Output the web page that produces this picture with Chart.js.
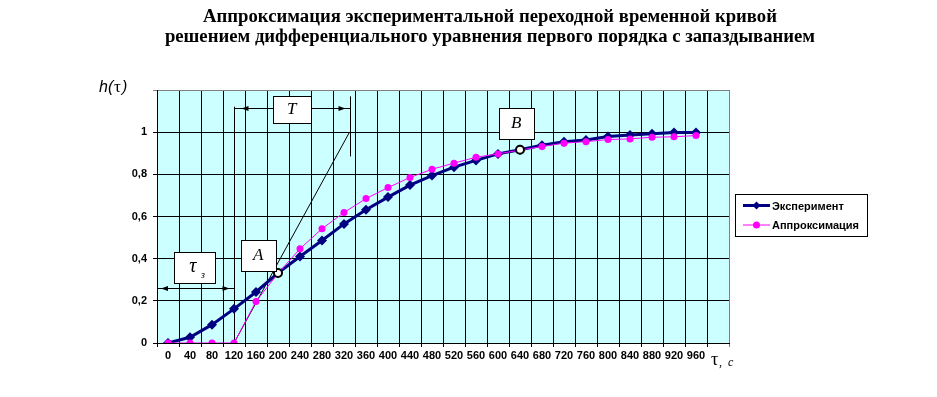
<!DOCTYPE html>
<html><head><meta charset="utf-8">
<script src="https://cdn.jsdelivr.net/npm/chart.js@4/dist/chart.umd.min.js"></script>
<style>html,body{margin:0;padding:0;background:#fff}</style>
</head><body>
<canvas id="c" width="937" height="397"></canvas>
<script>
// ---- data ----
const categories = ['0','40','80','120','160','200','240','280','320','360','400','440','480','520','560','600','640','680','720','760','800','840','880','920','960',''];
const experiment = [0, 0.027, 0.087, 0.162, 0.242, 0.332, 0.41, 0.486, 0.565, 0.632, 0.692, 0.749, 0.794, 0.834, 0.866, 0.897, 0.917, 0.938, 0.954, 0.963, 0.979, 0.986, 0.992, 0.998, 0.998];
const approximation = [0, 0, 0, 0, 0.197, 0.33, 0.447, 0.542, 0.619, 0.685, 0.737, 0.785, 0.824, 0.853, 0.881, 0.897, 0.915, 0.932, 0.948, 0.955, 0.965, 0.968, 0.976, 0.978, 0.984];
const keyPointTaus = ['200', '640'];
const keyPointValues = [0.332, 0.917];
const yTickLabels = ['0', '0,2', '0,4', '0,6', '0,8', '1', ''];
const seriesNames = ['Эксперимент', 'Аппроксимация'];
const titleLines = ['Аппроксимация экспериментальной переходной временной кривой', 'решением дифференциального уравнения первого порядка с запаздыванием'];
// graphical construction (tau in s, h)
const tangentTau = [120, 330];
const tangentH = [0, 1];

const NAVY = '#000080', MAG = '#FF00FF';

const bgPlugin = {
  id: 'bg',
  beforeDraw(chart) {
    const {ctx, chartArea: a} = chart;
    ctx.save();
    ctx.fillStyle = '#fff';
    ctx.fillRect(0, 0, chart.width, chart.height);
    ctx.fillStyle = '#CCFFFF';
    ctx.fillRect(a.left, a.top, a.right - a.left, a.bottom - a.top);
    ctx.restore();
  }
};

function arrowHead(ctx, tipX, y, dir) {
  // dir: -1 points left, +1 points right
  ctx.beginPath();
  ctx.moveTo(tipX, y);
  ctx.lineTo(tipX - dir * 7, y - 2.5);
  ctx.lineTo(tipX - dir * 7, y + 2.5);
  ctx.closePath();
  ctx.fill();
}

const constructionPlugin = {
  id: 'construction',
  beforeDatasetsDraw(chart) {
    const ctx = chart.ctx, xs = chart.scales.x, ys = chart.scales.y;
    const px = t => xs.getPixelForValue(t / 40);
    const py = h => ys.getPixelForValue(h);
    ctx.save();
    ctx.strokeStyle = '#000'; ctx.fillStyle = '#000'; ctx.lineWidth = 1;
    // tangent
    ctx.beginPath();
    ctx.moveTo(px(tangentTau[0]), py(tangentH[0]));
    ctx.lineTo(px(tangentTau[1]), py(tangentH[1]));
    ctx.stroke();
    // vertical guides
    const x0 = Math.round(px(tangentTau[0])) + 0.5, x1 = Math.round(px(tangentTau[1])) + 0.5;
    ctx.beginPath(); ctx.moveTo(x0, py(1.121)); ctx.lineTo(x0, py(0)); ctx.stroke();
    ctx.beginPath(); ctx.moveTo(x1, py(1.17)); ctx.lineTo(x1, py(0.885)); ctx.stroke();
    // T dimension
    const yT = Math.round(py(1.114)) + 0.5;
    ctx.beginPath(); ctx.moveTo(x0, yT); ctx.lineTo(x1, yT); ctx.stroke();
    arrowHead(ctx, x0 + 7, yT, -1);
    arrowHead(ctx, x1 - 5, yT, 1);
    // tau_z dimension
    const yZ = Math.round(py(0.26)) + 0.5, xa = chart.chartArea.left;
    ctx.beginPath(); ctx.moveTo(xa, yZ); ctx.lineTo(x0, yZ); ctx.stroke();
    arrowHead(ctx, xa + 4, yZ, -1);
    arrowHead(ctx, x0 - 5, yZ, 1);
    ctx.restore();
  },
  afterDatasetsDraw(chart) {
    const ctx = chart.ctx, xs = chart.scales.x, ys = chart.scales.y;
    const px = t => xs.getPixelForValue(t / 40);
    const py = h => ys.getPixelForValue(h);
    const boxes = [
      {t: 49, h: 0.358, w: 41, hh: 31, txt: 'τ', sub: 'з'},
      {t: 164, h: 0.415, w: 35, hh: 31, txt: 'A'},
      {t: 225, h: 1.107, w: 38, hh: 27, txt: 'T'},
      {t: 633, h: 1.04, w: 35, hh: 31, txt: 'B'}
    ];
    ctx.save();
    boxes.forEach(b => {
      const cx = px(b.t), cy = py(b.h);
      const l = Math.round(cx - b.w / 2) + 0.5, t = Math.round(cy - b.hh / 2) + 0.5;
      ctx.fillStyle = '#fff'; ctx.fillRect(l, t, b.w, b.hh);
      ctx.strokeStyle = '#000'; ctx.lineWidth = 1; ctx.strokeRect(l, t, b.w, b.hh);
      ctx.fillStyle = '#000';
      ctx.textAlign = 'center'; ctx.textBaseline = 'middle';
      if (b.sub) {
        ctx.font = 'italic 20px "Liberation Serif"';
        ctx.fillText(b.txt, cx - 2, cy - 1);
        ctx.font = 'italic 10px "Liberation Serif"';
        ctx.fillText(b.sub, cx + 8, cy + 8);
      } else {
        ctx.font = 'italic 17px "Liberation Serif"';
        ctx.fillText(b.txt, cx, cy);
      }
    });
    ctx.restore();
  },
  afterDraw(chart) {
    const ctx = chart.ctx;
    ctx.save();
    ctx.fillStyle = '#000';
    // title
    ctx.textAlign = 'center'; ctx.textBaseline = 'alphabetic';
    ctx.font = 'bold 18.7px "Liberation Serif"';
    ctx.fillText(titleLines[0], 490, 22);
    ctx.fillText(titleLines[1], 490, 42);
    // axis titles
    ctx.textAlign = 'left'; ctx.textBaseline = 'middle';
    ctx.font = 'italic 16px "Liberation Sans"';
    ctx.fillText('h(', 99, 88);
    ctx.font = '17px "Liberation Serif"';
    ctx.fillText('τ', 114, 88);
    ctx.font = 'italic 16px "Liberation Sans"';
    ctx.fillText(')', 122, 88);
    ctx.font = '18px "Liberation Serif"';
    ctx.fillText('τ', 711, 360);
    ctx.font = 'italic 12px "Liberation Serif"';
    ctx.fillText(',  с', 719, 363);
    // legend
    const L = 735.5, T = 194.5, W = 132, H = 42;
    ctx.strokeStyle = '#000'; ctx.lineWidth = 1;
    ctx.strokeRect(L, T, W, H);
    ctx.font = 'bold 11px "Liberation Sans"';
    const rows = [205.5, 225];
    // row 1
    ctx.strokeStyle = NAVY; ctx.lineWidth = 3;
    ctx.beginPath(); ctx.moveTo(743, rows[0]); ctx.lineTo(770, rows[0]); ctx.stroke();
    ctx.fillStyle = NAVY;
    ctx.beginPath(); ctx.moveTo(756.5, rows[0] - 4); ctx.lineTo(760.5, rows[0]); ctx.lineTo(756.5, rows[0] + 4); ctx.lineTo(752.5, rows[0]); ctx.closePath(); ctx.fill();
    ctx.fillStyle = '#000';
    ctx.fillText(seriesNames[0], 772, rows[0] + 1);
    // row 2
    ctx.strokeStyle = MAG; ctx.lineWidth = 1;
    ctx.beginPath(); ctx.moveTo(743, rows[1]); ctx.lineTo(770, rows[1]); ctx.stroke();
    ctx.fillStyle = MAG;
    ctx.beginPath(); ctx.arc(756.5, rows[1], 3.5, 0, Math.PI * 2); ctx.fill();
    ctx.fillStyle = '#000';
    ctx.fillText(seriesNames[1], 772, rows[1] + 1);
    ctx.restore();
  }
};

const tickFont = {family: '"Liberation Sans", Arial', weight: 'bold', size: 11};

new Chart(document.getElementById('c'), {
  type: 'line',
  data: {
    labels: categories,
    datasets: [
      {label: 'A, B', data: keyPointTaus.map((t, i) => ({x: t, y: keyPointValues[i]})), showLine: false,
       pointStyle: 'circle', pointRadius: 4, pointBackgroundColor: '#fff', pointBorderColor: '#000', pointBorderWidth: 2, order: 1},
      {label: seriesNames[1], data: approximation, borderColor: MAG, borderWidth: 1, pointStyle: 'circle', pointRadius: 3.5,
       pointBackgroundColor: MAG, pointBorderColor: MAG, pointBorderWidth: 0, tension: 0, order: 2},
      {label: seriesNames[0], data: experiment, borderColor: NAVY, borderWidth: 3, pointStyle: 'rectRot', pointRadius: 5,
       pointBackgroundColor: NAVY, pointBorderColor: NAVY, pointBorderWidth: 0, tension: 0, order: 3}
    ]
  },
  options: {
    responsive: false, animation: false, events: [],
    layout: {padding: {left: 112, right: 208, top: 90, bottom: 24}},
    plugins: {legend: {display: false}, tooltip: {enabled: false}, title: {display: false}},
    scales: {
      x: {
        type: 'category', offset: true,
        grid: {offset: true, color: c => c.type === 'tick' ? '#000' : '#808080', lineWidth: 1, tickLength: 4},
        border: {color: '#000', width: 1},
        ticks: {font: tickFont, color: '#000', padding: 2, maxRotation: 0, autoSkip: false},
        afterFit: s => { s.height = 30; }
      },
      y: {
        min: 0, max: 1.2,
        grid: {color: c => (c.tick && c.tick.value > 1.1) ? '#808080' : '#000', lineWidth: 1, tickLength: 4},
        border: {color: '#000', width: 1},
        ticks: {stepSize: 0.2, font: tickFont, color: '#000', padding: 6,
                callback: (v, i) => yTickLabels[i]},
        afterFit: s => { s.width = 45; }
      }
    }
  },
  plugins: [bgPlugin, constructionPlugin]
});
</script>
</body></html>
